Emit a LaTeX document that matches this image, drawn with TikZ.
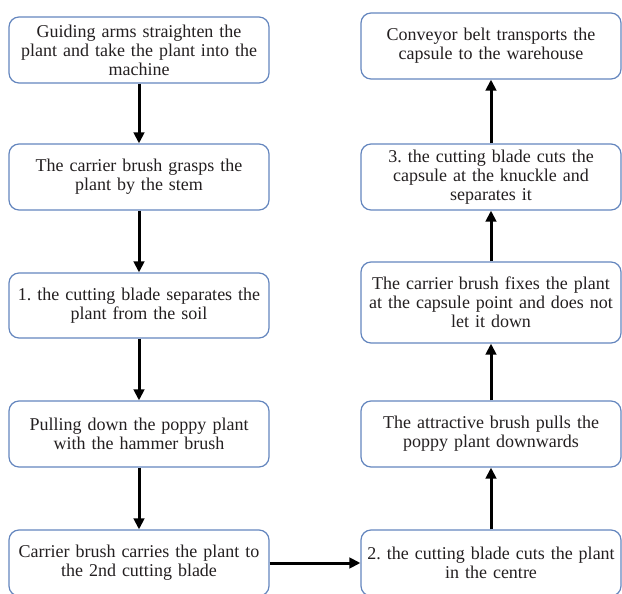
\documentclass[tikz,border=0pt]{standalone}
\usepackage{fontspec}
\setmainfont{Liberation Serif}
\usetikzlibrary{arrows.meta}

\definecolor{boxline}{RGB}{100,134,190}
\definecolor{boxtext}{RGB}{35,31,32}

\tikzset{
  stagebox/.style={draw=boxline, line width=1.2pt, rounded corners=10pt,
    minimum width=260pt, text width=258pt, align=center, inner sep=0pt,
    text=boxtext, font=\fontsize{18}{19}\selectfont},
  flowarrow/.style={line width=3pt, -{Triangle[length=11pt,width=10.5pt]}}
}

\begin{document}
\frenchspacing
\begin{tikzpicture}[x=1pt,y=1pt]
  \useasboundingbox (0,0) rectangle (622,-594);

  % left column, top to bottom
  \node[stagebox, minimum height=66pt] (guide) at (139,-50)
    {Guiding arms straighten the\\ plant and take the plant into the\\ machine};
  \node[stagebox, minimum height=66pt] (grasp) at (139,-177)
    {The carrier brush grasps the\\ plant by the stem};
  \node[stagebox, minimum height=65pt] (cutone) at (139,-305.5)
    {1. the cutting blade separates the\\ plant from the soil};
  \node[stagebox, minimum height=66pt] (pull) at (139,-434)
    {Pulling down the poppy plant\\ with the hammer brush};
  \node[stagebox, minimum height=66pt] (carry) at (139,-563)
    {Carrier brush carries the plant to\\ the 2nd cutting blade};

  % right column, bottom to top
  \node[stagebox, minimum height=66pt] (cuttwo) at (491,-563)
    {2. the cutting blade cuts the plant\\ in the centre};
  \node[stagebox, minimum height=66pt] (attract) at (491,-434)
    {The attractive brush pulls the\\ poppy plant downwards};
  \node[stagebox, minimum height=81pt] (fix) at (491,-302.5)
    {The carrier brush fixes the plant\\ at the capsule point and does not\\ let it down};
  \node[stagebox, minimum height=66pt] (cutthree) at (491,-177)
    {3. the cutting blade cuts the\\ capsule at the knuckle and\\ separates it};
  \node[stagebox, minimum height=66pt] (convey) at (491,-46)
    {Conveyor belt transports the\\ capsule to the warehouse};

  % connectors
  \draw[flowarrow] (guide) -- (grasp);
  \draw[flowarrow] (grasp) -- (cutone);
  \draw[flowarrow] (cutone) -- (pull);
  \draw[flowarrow] (pull) -- (carry);
  \draw[flowarrow] (carry) -- (cuttwo);
  \draw[flowarrow] (cuttwo) -- (attract);
  \draw[flowarrow] (attract) -- (fix);
  \draw[flowarrow] (fix) -- (cutthree);
  \draw[flowarrow] (cutthree) -- (convey);
\end{tikzpicture}
\end{document}
